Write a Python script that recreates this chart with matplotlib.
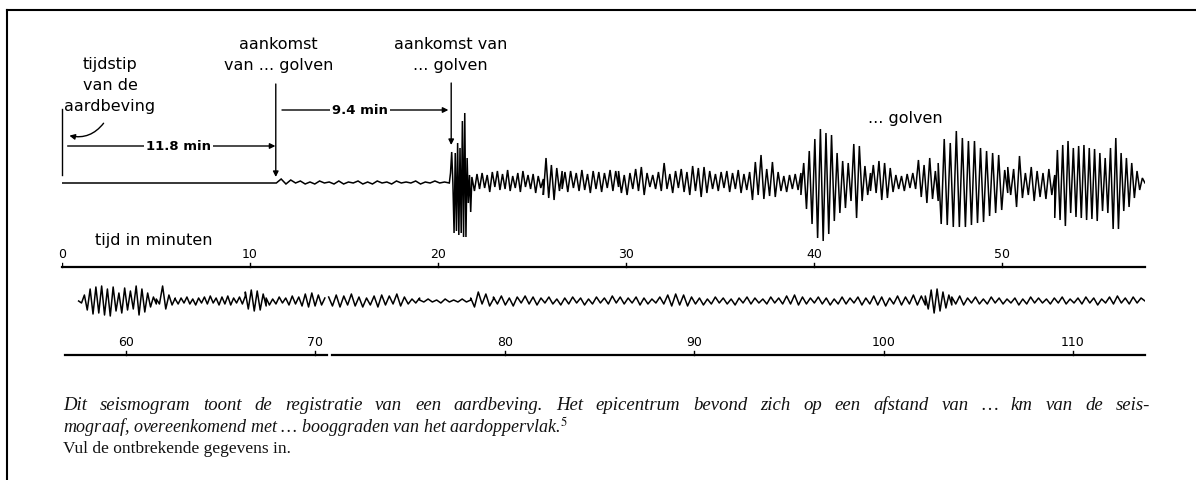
import numpy as np
import matplotlib.pyplot as plt
from matplotlib.lines import Line2D
from matplotlib.patches import FancyArrowPatch

plt.rcParams['mathtext.fontset'] = 'stix'

# ---- trace data: extremes (amplitude in px, up = +) ----
# top strip, minutes 0 .. 57.6
top_quiet = [0, 0]
top_p = [0, 4, -1, 3, 0, 2, -1, 1, -1, 2, 0, 1, -1, 2, -1, 1, 0, 2, -1, 1,
         -1, 2, 0, 1, -1, 2, 0, 1, 0, 2, -1, 1, 0, 2, 0, 1, 0]
top_s = [0, 10, 31, 0, -50, 30, -48, 40, -52, 35, -50, 62, -54, 70, -54, 25,
         -20, 8, -29, 6]
top_after_s = [6, -8, 9, -6, 10, -5, 8, -9, 11, -4, 12, -7, 9, -6, 13, -8, 7,
               -5, 10, -9, 12, -4, 8, -6, 9, -10, 7, -5, 4]
top_bump = [-12, 25, -15, 18, -17, 15, -8, 12]
top_mid1 = [-6, 11, -9, 12, -5, 10, -8, 13, -7, 9, -10, 12, -6, 11, -9, 10, -5,
            13, -8, 12, -4]
top_mid2 = [12, -10, 8, -12, 10, -6, 14, -8, 16, -12, 10, -4, 8, -6, 11, -8, 20,
            -6, 9, -10, 12, -5, 14, -9, 11, -12, 17, -8, 15, -14, 16, -10, 12,
            -6, 9, -8, 11, -5, 12, -9, 10, -6, 13, -10, 9, -7, 11, -17, 21, -12,
            28, -16, 14, -13, 21, -14, 11, -8, 7, -9, 8, -6, 9, -7, 10]
top_burst1 = [-12, 20, -26, 32, -41, 44, -55, 54, -58, 50, -51, 48, -38, 30,
              -30, 22, -25, 20, -18, 39, -35, 37, -18, 17, -12, 10]
top_mid3 = [-8, 18, -10, 22, -17, 20, -15, 15, -9, 8, -6, 7, -8, 9, -5, 10, -6,
            23, -14, 18, -20, 25, -16, 12, -18]
top_burst2 = [20, -41, 44, -42, 40, -44, 52, -44, 45, -44, 42, -42, 42, -40, 35,
              -39, 32, -33, 30, -30, 28, -27, 13, -10]
top_mid4 = [16, -12, 14, -24, 27, -15, 10, -12, 16, -18, 12, -14, 10, -16, 14,
            -12, 8]
top_burst3 = [-35, 33, -37, 38, -43, 42, -30, 35, -34, 37, -35, 38, -37, 35,
              -36, 34, -38, 30, -28, 25, -30, 35, -46, 45, -46, 30, -28, 25,
              -24, 20, -15, 12, -7, 5, 0]
top_bounds = [0, 11.4, 20.6, 21.8, 25.6, 26.6, 29.6, 39.3, 43.0, 46.6, 50.3,
              52.8, 57.6]

# bottom strip, minutes 57.5 .. 113.8 (pen break near 70.6)
bot_burst = [0, -2, 6, -9, 12, -13, 14, -12, 15, -14, 12, -15, 14, -10, 8, -12,
             13, -9, 10, -8, 15, -14, 12, -11, 8, -6, 4, -3]
bot_bump = [2, -3, 15, -8, 6, -4, 3]
bot_low1 = [2, -3, 3, -2, 4, -3, 2, -4, 3, -2, 4, -3, 5, -2, 3, -4, 4, -3, 5,
            -4, 3, -2, 4, -3, 5]
bot_burst2 = [9, -8, 11, -10, 10, -9, 7, -5]
bot_low2 = [3, -4, 2, -3, 4, -2, 3, -4, 5, -3, 4, -5, 7, -6, 8, -5, 6, -4, 3]
bot_low3 = [4, -5, 6, -6, 5, -4, 7, -5, 4, -6, 3, -4, 5, -6, 6, -4, 5, -3, 7,
            -5, 4, -3, 2, -2, 3]
bot_quiet = [1, -1, 2, -1, 1, -2, 2, -1, 1, -1, 2, -1, 1]
bot_bump2 = [3, -6, 9, -3, 7, -5, 2]
bot_long = [4, -3, 5, -4, 3, -5, 4, -2, 5, -3, 4, -4, 3, -2, 4, -3, 2, -4, 3,
            -3, 4, -2, 3, -4, 2, -3, 4, -2, 3, -3, 5, -2, 4, -3, 3, -2, 4, -4,
            3, -3, 2, -2, 4, -3, 6, -5, 7, -4, 6, -5, 4, -3, 3, -4, 2, -3, 4,
            -2, 3, -3, 2, -4, 3, -2, 4, -3, 3, -2, 2, -3, 4, -2, 3, -3, 5, -3,
            6, -4, 4, -3, 3, -2, 4, -3, 3, -4, 2, -3, 4, -3, 3, -2, 4, -4, 3,
            -3, 5, -4, 4, -5, 3, -3, 5, -4, 4, -3, 6, -4, 5, -4]
bot_burst3 = [5, -8, 11, -12, 12, -10, 9, -7, 6, -4]
bot_tail = [4, -3, 5, -4, 3, -2, 4, -3, 2, -3, 4, -2, 3, -3, 2, -2, 3, -4, 2,
            -3, 4, -2, 3, -2, 2, -3, 3, -2, 4, -3, 2, -2, 3, -3, 4, -2, 3, -4,
            2, -2, 4, -3, 5, -2, 3, -3, 4, -2, 3, 0]
bot_bounds_a = [57.5, 61.6, 62.6, 66.3, 67.4, 70.5]
bot_bounds_b = [70.7, 75.5, 78.2, 79.4, 102.2, 103.6, 113.8]

# scales
top_ticks = [0, 10, 20, 30, 40, 50]
bot_ticks = [60, 70, 80, 90, 100, 110]

caption_1 = ("Dit seismogram toont de registratie van een aardbeving. Het epicentrum "
             "bevond zich op een afstand van \u2026 km van de seis-")
caption_2 = ("mograaf, overeenkomend met \u2026 booggraden van het "
             "aardoppervlak.$^{5}$")
caption_3 = "Vul de ontbrekende gegevens in."


def build(bounds, pieces):
    t, a = [], []
    for i, vals in enumerate(pieces):
        ts = np.linspace(bounds[i], bounds[i + 1], len(vals))
        t.extend(ts)
        a.extend(vals)
    return np.array(t), np.array(a)


W, H = 1196, 480
fig = plt.figure(figsize=(W / 100, H / 100), dpi=100)


def px_axes(x0, x1, y0, y1):
    ax = fig.add_axes([x0 / W, 1 - y1 / H, (x1 - x0) / W, (y1 - y0) / H])
    ax.axis('off')
    return ax


sans = dict(family='DejaVu Sans', fontsize=11.5, color='black')

# ---------------- top strip ----------------
top = px_axes(62, 1145, 20, 280)
top.set_xlim(0, 57.6)
top.set_ylim(-97, 163)
t, a = build(top_bounds, [top_quiet, top_p, top_s, top_after_s, top_bump,
                          top_mid1, top_mid2, top_burst1, top_mid3, top_burst2,
                          top_mid4, top_burst3])
top.plot(t, a, color='black', lw=1.1, solid_joinstyle='miter')

top.plot([0, 57.6], [-84, -84], color='black', lw=1.6, clip_on=False)
for tk in top_ticks:
    top.plot([tk, tk], [-84, -80], color='black', lw=1.0)
    top.text(tk, -71, str(tk), ha='center', va='center', family='DejaVu Sans',
             fontsize=9)
top.text(4.9, -58, 'tijd in minuten', ha='center', va='center', **sans)

# earthquake moment
top.plot([0, 0], [8, 74], color='black', lw=1.0, clip_on=False)
top.text(2.55, 98, 'tijdstip\nvan de\naardbeving', ha='center', va='center',
         linespacing=1.5, **sans)
top.add_patch(FancyArrowPatch((2.3, 62), (0.25, 48),
                              connectionstyle='arc3,rad=-0.35',
                              arrowstyle='-|>', mutation_scale=8, lw=1.0,
                              color='black', clip_on=False))

arrow = dict(arrowstyle='-|>', lw=1.0, color='black', mutation_scale=8,
             shrinkA=0, shrinkB=0)
# 11.8 min interval
top.annotate('', xy=(11.35, 37), xytext=(0.3, 37), arrowprops=arrow)
top.text(6.2, 37, '11.8 min', ha='center', va='center', family='DejaVu Sans',
         fontsize=9.5, fontweight='bold',
         bbox=dict(facecolor='white', edgecolor='none', pad=1.5))
# first arrival
top.annotate('', xy=(11.37, 6), xytext=(11.37, 99), arrowprops=arrow)
top.text(11.5, 128, 'aankomst\nvan ... golven', ha='center', va='center',
         linespacing=1.5, **sans)
# 9.4 min interval
top.annotate('', xy=(20.55, 73), xytext=(11.7, 73), arrowprops=arrow)
top.text(15.85, 73, '9.4 min', ha='center', va='center', family='DejaVu Sans',
         fontsize=9.5, fontweight='bold',
         bbox=dict(facecolor='white', edgecolor='none', pad=1.5))
# second arrival
top.annotate('', xy=(20.7, 38), xytext=(20.7, 100), arrowprops=arrow)
top.text(20.65, 128, 'aankomst van\n... golven', ha='center', va='center',
         linespacing=1.5, **sans)
# surface waves
top.text(44.85, 65, '... golven', ha='center', va='center', **sans)

# ---------------- bottom strip ----------------
bot = px_axes(65, 1145, 280, 368)
bot.set_xlim(56.78, 113.8)
bot.set_ylim(-67, 21)
ta, aa = build(bot_bounds_a, [bot_burst, bot_bump, bot_low1, bot_burst2,
                              bot_low2])
tb, ab = build(bot_bounds_b, [bot_low3, bot_quiet, bot_bump2, bot_long,
                              bot_burst3, bot_tail])
bot.plot(ta, aa, color='black', lw=1.1)
bot.plot(tb, ab, color='black', lw=1.1)

bot.plot([56.78, 70.6], [-54, -54], color='black', lw=1.6, clip_on=False)
bot.plot([70.9, 113.8], [-54, -54], color='black', lw=1.6, clip_on=False)
for tk in bot_ticks:
    bot.plot([tk, tk], [-54, -50], color='black', lw=1.0)
    bot.text(tk, -41, str(tk), ha='center', va='center', family='DejaVu Sans',
             fontsize=9)

# ---------------- caption ----------------
r = fig.canvas.get_renderer()
serif = dict(family='Liberation Serif', color='#111111')
x_left, x_right = 63 / W, 1150 / W
# first line is justified: spread the words over the full width
words = caption_1.split(' ')
texts = [fig.text(0, 1 - 405 / H, w_, style='italic', va='center',
                  fontsize=13.5, **serif) for w_ in words]
widths = [tx.get_window_extent(r).width / W for tx in texts]
gap = (x_right - x_left - sum(widths)) / (len(words) - 1)
x = x_left
for tx, wd in zip(texts, widths):
    tx.set_x(x)
    x += wd + gap
fig.text(x_left, 1 - 427 / H, caption_2, style='italic', va='center',
         fontsize=13, **serif)
fig.text(x_left, 1 - 449 / H, caption_3, va='center', fontsize=12.5, **serif)

# frame of the figure box
fig.add_artist(Line2D([7 / W, 1], [1 - 10 / H, 1 - 10 / H], color='black',
                      lw=1.5))
fig.add_artist(Line2D([7 / W, 7 / W], [0, 1 - 10 / H], color='black', lw=1.5))

fig.savefig('out.png', dpi=100, facecolor='white')
